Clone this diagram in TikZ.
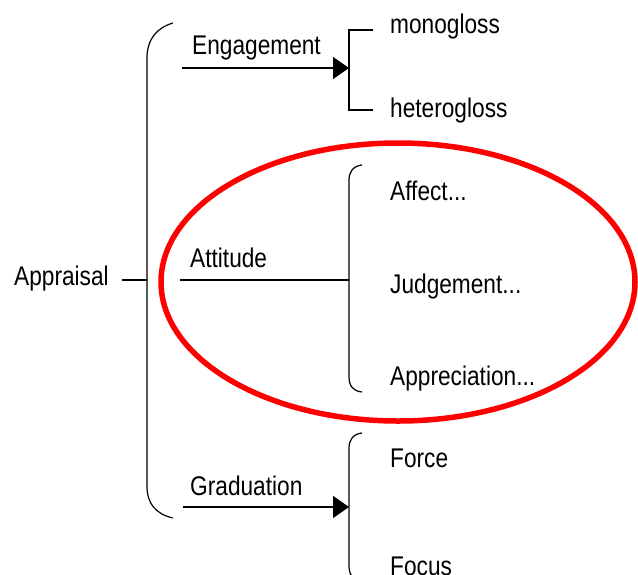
\documentclass[tikz,border=0pt]{standalone}
\usepackage{fontspec}
\setmainfont{Liberation Sans}[FakeStretch=0.84]
\usetikzlibrary{arrows.meta}
\begin{document}
\begin{tikzpicture}[x=1pt,y=-1pt,
  lbl/.style={anchor=base west,inner sep=0pt,font=\fontsize{27}{30}\selectfont},
  wire/.style={line width=1.2pt,black},
  tip/.style={wire,-{Triangle[length=16pt,width=22pt]}},
  ring/.style={line width=5.5pt,red}]
\useasboundingbox (0,0) rectangle (638,574);
\clip (0,0) rectangle (638,574);

% labels
\node[lbl] (appraisal) at (14,285) {Appraisal};
\node[lbl] (engagement) at (192,54) {Engagement};
\node[lbl] (attitude) at (190,267) {Attitude};
\node[lbl] (graduation) at (190,495) {Graduation};
\node[lbl] (mono) at (390,33) {monogloss};
\node[lbl] (hetero) at (390,117) {heterogloss};
\node[lbl] (affect) at (390,200) {Affect...};
\node[lbl] (judge) at (390,293) {Judgement...};
\node[lbl] (apprec) at (390,385) {Appreciation...};
\node[lbl] (force) at (390,467) {Force};
\node[lbl] (focus) at (390,575) {Focus};

% junction points
\coordinate (appout) at (122,280);
\coordinate (rootbar) at (147,280);
\coordinate (engfrom) at (182,68);
\coordinate (engbar) at (349,68);
\coordinate (attfrom) at (180,280);
\coordinate (attbar) at (349,280);
\coordinate (gradfrom) at (183,507);
\coordinate (gradbar) at (349,507);

% root brace
\draw[wire] (173,23) .. controls (156,28) and (147,40) .. (147,58)
  -- (147,486) .. controls (147,504) and (156,514) .. (173,518);
\draw[wire] (appout) -- (rootbar);

% engagement branch
\draw[tip] (engfrom) -- (engbar);
\draw[wire] (373,30) -- (349,30) -- (349,110) -- (373,110);

% attitude branch
\draw[wire] (attfrom) -- (attbar);
\draw[wire] (362,165) .. controls (353,166) and (349,172) .. (349,180)
  -- (349,377) .. controls (349,386) and (353,391) .. (362,392);

% graduation branch
\draw[tip] (gradfrom) -- (gradbar);
\draw[wire] (362,433) .. controls (353,434) and (349,440) .. (349,448)
  -- (349,566) .. controls (349,575) and (353,580) .. (362,581);

% highlight around attitude
\draw[ring] (398,282) ellipse [x radius=237, y radius=139];
\end{tikzpicture}
\end{document}
